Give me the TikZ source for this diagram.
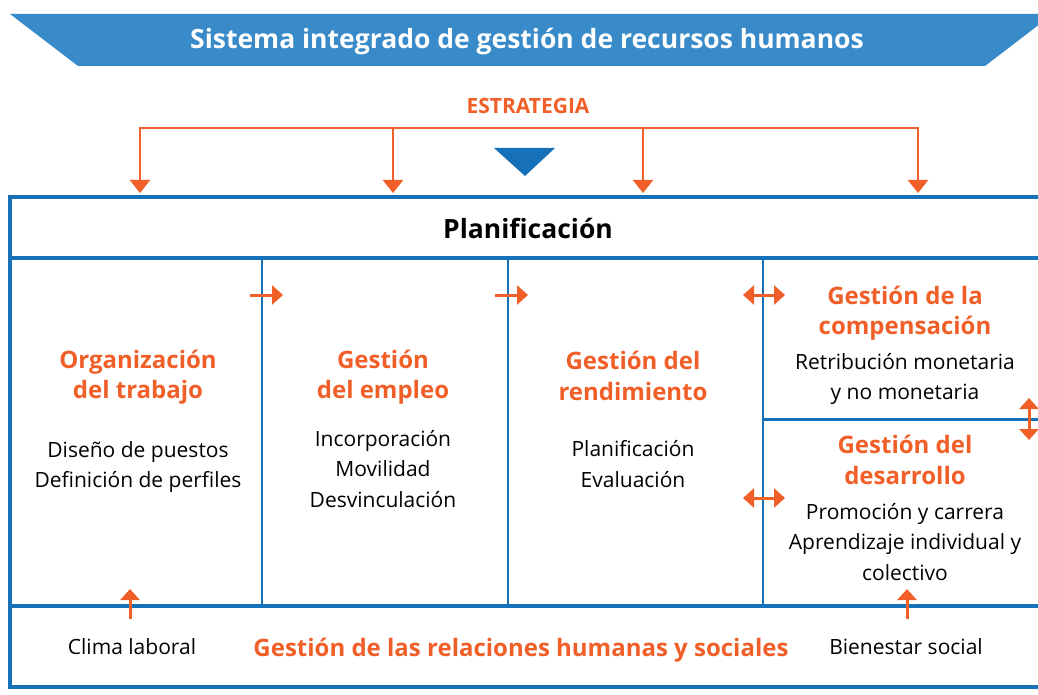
\documentclass[tikz,border=0pt]{standalone}
\usepackage{fontspec}
\setmainfont{Open Sans}
\usetikzlibrary{arrows.meta}

\definecolor{rhblue}{RGB}{23,113,185}
\definecolor{bannerblue}{RGB}{57,138,200}
\definecolor{rhorange}{RGB}{241,95,40}

\tikzset{
  frame/.style={rhblue, line width=4pt},
  divider/.style={rhblue, line width=2.2pt},
  head/.style={text=rhorange, font=\bfseries\fontsize{24}{30.5}\selectfont, align=center},
  body/.style={font=\fontsize{21}{30.5}\selectfont, align=center},
  drop/.style={rhorange, line width=2.6pt, -{Triangle[length=13pt,width=20pt]}},
  push/.style={rhorange, line width=3pt, -{Triangle[length=11pt,width=19pt]}},
  swap/.style={rhorange, line width=3pt, {Triangle[length=11pt,width=19pt]}-{Triangle[length=11pt,width=19pt]}},
}

\begin{document}
\begin{tikzpicture}[x=1pt, y=-1pt]
    \clip (0,0) rectangle (1038,695);

    % banner
    \fill[bannerblue] (10,14) -- (1053,14) -- (985,66) -- (78,66) -- cycle;
    \node[text=white, font=\bfseries\fontsize{26.5}{30}\selectfont] (title) at (527,42) {Sistema integrado de gestión de recursos humanos};

    % strategy
    \node[text=rhorange, font=\bfseries\fontsize{21}{24}\selectfont] (estrategia) at (528,106) {ESTRATEGIA};
    \draw[rhorange, line width=2.6pt] (140,128) -- (918,128);
    \foreach \x in {140,393,643,918}
        \draw[drop] (\x,127) -- (\x,193);
    \fill[rhblue] (494,148) -- (555,148) -- (525,176) -- cycle;

    % frame
    \draw[frame] (1045,197) -- (10,197) -- (10,687) -- (1045,687);
    \draw[frame] (10,258) -- (1045,258);
    \draw[frame] (10,606) -- (1045,606);
    \draw[divider] (262,258) -- (262,606);
    \draw[divider] (508,258) -- (508,606);
    \draw[divider] (763,258) -- (763,606);
    \draw[rhblue, line width=3pt] (763,419) -- (1045,419);

    \node[font=\bfseries\fontsize{26.5}{30}\selectfont] (plan) at (528,228) {Planificación};

    % columns
    \node[head] (org) at (138,377) {Organización\\del trabajo};
    \node[body] (orgtxt) at (138,467) {Diseño de puestos\\Definición de perfiles};

    \node[head] (empleo) at (383,377) {Gestión\\del empleo};
    \node[body] (empleotxt) at (383,469) {Incorporación\\Movilidad\\Desvinculación};

    \node[head] (rend) at (633,376) {Gestión del\\rendimiento};
    \node[body] (rendtxt) at (633,464) {Planificación\\Evaluación};

    \node[head] (comp) at (905,313) {Gestión de la\\compensación};
    \node[body] (comptxt) at (905,379) {Retribución monetaria\\y no monetaria};

    \node[head] (desa) at (905,460) {Gestión del\\desarrollo};
    \node[body] (desatxt) at (905,542) {Promoción y carrera\\Aprendizaje individual y\\colectivo};

    % bottom band
    \node[body] (clima) at (132,647) {Clima laboral};
    \node[head] (rel) at (521,650) {Gestión de las relaciones humanas y sociales};
    \node[body] (bien) at (906,647) {Bienestar social};

    % small arrows
    \draw[push] (250,295) -- (283,295);
    \draw[push] (495,295) -- (528,295);
    \draw[swap] (743,295) -- (785,295);
    \draw[swap] (743,498) -- (785,498);
    \draw[swap] (1029,398) -- (1029,440);
    \draw[push] (130,619) -- (130,589);
    \draw[push] (907,619) -- (907,589);

\end{tikzpicture}
\end{document}
